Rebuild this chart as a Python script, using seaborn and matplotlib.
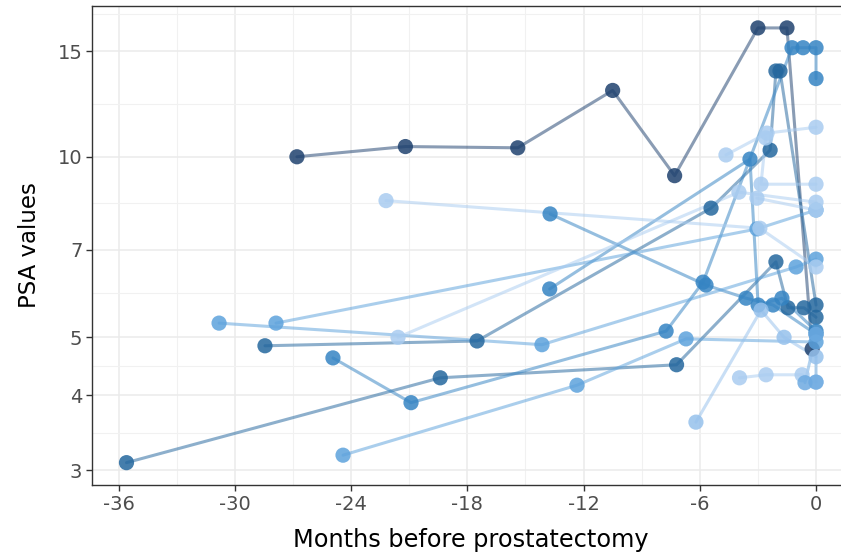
import numpy as np
import pandas as pd
import matplotlib
matplotlib.use("Agg")
import matplotlib.pyplot as plt
import seaborn as sns
from matplotlib.colors import LinearSegmentedColormap, to_hex
from matplotlib.ticker import FixedLocator, NullFormatter

# ---- data (months before surgery, PSA) per patient ----
p01_month = [-26.8, -21.2, -15.4, -10.5, -7.3, -3.0, -1.5, -0.2]
p01_psa = [10.0, 10.4, 10.35, 12.9, 9.3, 16.4, 16.4, 4.78]
p02_month = [-35.6, -19.4, -7.2, -2.07, -1.45, -0.62, 0.0]
p02_psa = [3.09, 4.28, 4.5, 6.68, 5.6, 5.6, 5.4]
p03_month = [-28.45, -17.5, -5.42, -2.37, -2.07, -1.86, 0.0]
p03_psa = [4.84, 4.93, 8.21, 10.26, 13.9, 13.9, 5.66]
p04_month = [-13.75, -3.41, -2.99, -1.76, 0.0]
p04_psa = [6.02, 9.91, 5.66, 5.81, 5.12]
p05_month = [-24.94, -20.91, -7.74, -5.83, -1.24, -0.67, 0.0, 0.0]
p05_psa = [4.62, 3.89, 5.12, 6.18, 15.2, 15.2, 15.2, 13.5]
p06_month = [-13.73, -5.68, -3.61, -2.22, 0.0]
p06_psa = [8.03, 6.11, 5.81, 5.66, 5.06]
p07_month = [-27.88, -3.05, 0.0]
p07_psa = [5.28, 7.58, 8.15]
p08_month = [-30.82, -14.15, -1.03, 0.0]
p08_psa = [5.28, 4.86, 6.55, 6.75]
p09_month = [-24.42, -12.34, -6.71, 0.0]
p09_psa = [3.18, 4.16, 4.97, 4.91]
p10_month = [-22.2, -2.9, 0.0]
p10_psa = [8.45, 7.6, 6.55]
p11_month = [-21.58, -3.98, 0.0]
p11_psa = [5.0, 8.73, 8.4]
p12_month = [-4.65, -2.53, 0.0]
p12_psa = [10.07, 10.95, 11.2]
p13_month = [-2.6, -2.84, 0.0]
p13_psa = [10.75, 9.0, 9.0]
p14_month = [-3.05, 0.0]
p14_psa = [8.53, 8.15]
p15_month = [-6.2, -2.84, -1.65, 0.0]
p15_psa = [3.61, 5.55, 5.0, 4.64]
p16_month = [-3.95, -2.58, -0.72, 0.0]
p16_psa = [4.28, 4.33, 4.33, 4.21]
p17_month = [-0.57, 0.0, 0.0]
p17_psa = [4.20, 5.06, 4.21]

# colour level per patient (0 = lightest, 1 = darkest)
patient_ids = ["P01", "P02", "P03", "P04", "P05", "P06", "P07", "P08", "P09",
               "P10", "P11", "P12", "P13", "P14", "P15", "P16", "P17"]
patient_shade = [1.0, 0.8, 0.8, 0.6, 0.6, 0.6, 0.4, 0.4, 0.4,
                 0.12, 0.12, 0.12, 0.12, 0.12, 0.2, 0.12, 0.35]

months = [p01_month, p02_month, p03_month, p04_month, p05_month, p06_month,
          p07_month, p08_month, p09_month, p10_month, p11_month, p12_month,
          p13_month, p14_month, p15_month, p16_month, p17_month]
psas = [p01_psa, p02_psa, p03_psa, p04_psa, p05_psa, p06_psa, p07_psa,
        p08_psa, p09_psa, p10_psa, p11_psa, p12_psa, p13_psa, p14_psa,
        p15_psa, p16_psa, p17_psa]

rows = []
for pid, mm, pp in zip(patient_ids, months, psas):
    for order, (m, p) in enumerate(zip(mm, pp)):
        rows.append({"patient": pid, "month": m, "psa": p, "order": order})
df = pd.DataFrame(rows)

cmap = LinearSegmentedColormap.from_list(
    "psa_blues", ["#c4dbf7", "#8bbbe9", "#3f91d4", "#2570aa", "#1f426f"])
palette = {pid: to_hex(cmap(s)) for pid, s in zip(patient_ids, patient_shade)}

# ---- figure ----
W, H = 841, 556
fig = plt.figure(figsize=(W / 100, H / 100), dpi=100)
left_px, right_px, top_px, bottom_px = 92, 850.5, 6, 485
ax = fig.add_axes([left_px / W, 1 - bottom_px / H,
                   (right_px - left_px) / W, (bottom_px - top_px) / H])

sns.set_style("white")
plt.rcParams['font.family'] = ['Liberation Sans', 'DejaVu Sans']

sns.lineplot(data=df, x="month", y="psa", hue="patient", palette=palette,
             estimator=None, sort=False, legend=False, lw=2.2, alpha=0.52,
             ax=ax, zorder=2)
sns.scatterplot(data=df, x="month", y="psa", hue="patient", palette=palette,
                s=120, alpha=0.85, linewidth=0, legend=False, ax=ax, zorder=3)

ax.set_yscale("log")
ax.set_xlim(-37.38, 1.78)
ax.set_ylim(2.836, 17.84)

yt = [3, 4, 5, 7, 10, 15]
ax.yaxis.set_major_locator(FixedLocator(yt))
ax.set_yticklabels([str(v) for v in yt])
ax.yaxis.set_minor_locator(FixedLocator([np.sqrt(12), np.sqrt(20), np.sqrt(35),
                                         np.sqrt(70), np.sqrt(150), np.sqrt(300)]))
ax.yaxis.set_minor_formatter(NullFormatter())
xt = [-36, -30, -24, -18, -12, -6, 0]
ax.xaxis.set_major_locator(FixedLocator(xt))
ax.set_xticklabels([str(v) for v in xt])
ax.xaxis.set_minor_locator(FixedLocator([-33, -27, -21, -15, -9, -3]))

ax.grid(which="major", color="#ebebeb", lw=1.1, zorder=0)
ax.grid(which="minor", color="#f1f1f1", lw=0.8, zorder=0)
ax.set_axisbelow(True)
for sp in ax.spines.values():
    sp.set_color("#333333")
    sp.set_linewidth(1.0)
    sp.set_visible(True)

ax.tick_params(which="major", length=4, width=1.0, color="#333333",
               labelsize=14, labelcolor="#4d4d4d", pad=3)
ax.tick_params(which="minor", length=0)

ax.set_xlabel("Months before prostatectomy", fontsize=17.3, color="black", labelpad=10)
ax.set_ylabel("PSA values", fontsize=16.5, color="black", labelpad=12)

fig.savefig("out.png", dpi=100)
